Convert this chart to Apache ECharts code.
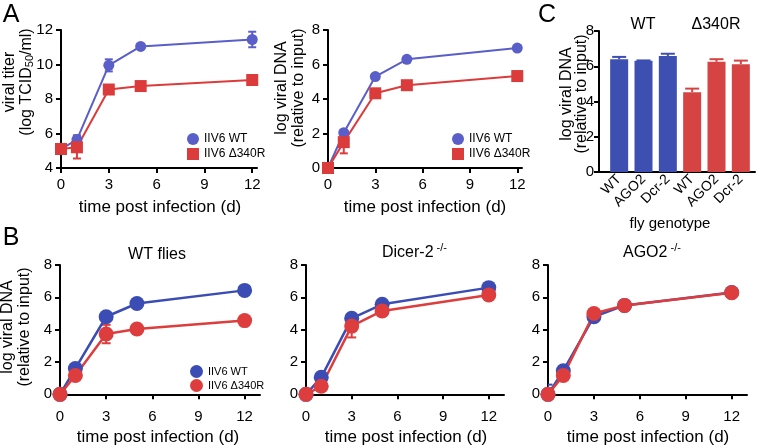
<!DOCTYPE html>
<html><head><meta charset="utf-8">
<script src="https://cdn.jsdelivr.net/npm/echarts@6/dist/echarts.min.js"></script>
<style>html,body{margin:0;padding:0;background:#fff}#c{width:762px;height:445px}</style>
</head><body><div id="c"></div>
<script>
// ---------- data ----------
const days = [0, 1, 3, 5, 12];
const dayTicks = [0, 3, 6, 9, 12];
const titerTicks = [4, 6, 8, 10, 12];
const dnaTicks = [0, 2, 4, 6, 8];
const seriesNames = ['IIV6 WT', 'IIV6 Δ340R'];

// A: viral titer
const titerWT = [5.1, 5.65, 9.95, 11.05, 11.45];
const titerWTErr = [0.1, 0.25, 0.35, 0.1, 0.45];
const titerMut = [5.1, 5.2, 8.55, 8.75, 9.1];
const titerMutErr = [0.1, 0.65, 0.15, 0.1, 0.1];
// A: viral DNA
const dnaWT = [0, 2.05, 5.3, 6.3, 6.95];
const dnaWTErr = [0.05, 0.15, 0.15, 0.1, 0.1];
const dnaMut = [0, 1.5, 4.33, 4.8, 5.33];
const dnaMutErr = [0.05, 0.65, 0.15, 0.1, 0.1];
// B: WT flies
const wtFliesWT = [0, 1.6, 4.8, 5.62, 6.43];
const wtFliesWTErr = [0, 0.1, 0.15, 0.1, 0.1];
const wtFliesMut = [0, 1.17, 3.73, 4.04, 4.56];
const wtFliesMutErr = [0, 0.15, 0.57, 0.1, 0.1];
// B: Dicer-2 -/-
const dicerWT = [0, 1.05, 4.7, 5.57, 6.6];
const dicerWTErr = [0, 0.25, 0.15, 0.1, 0.1];
const dicerMut = [0, 0.5, 4.22, 5.16, 6.15];
const dicerMutErr = [0, 0.1, 0.7, 0.1, 0.1];
// B: AGO2 -/-
const agoWT = [0, 1.46, 4.8, 5.5, 6.3];
const agoWTErr = [0.6, 0.2, 0.3, 0.1, 0.1];
const agoMut = [0, 1.17, 5.0, 5.5, 6.28];
const agoMutErr = [0, 0.1, 0.2, 0.1, 0.1];
// C: bars
const flyGenotypes = ['WT', 'AGO2', 'Dcr-2', 'WT', 'AGO2', 'Dcr-2'];
const barVirus = ['WT', 'WT', 'WT', 'Δ340R', 'Δ340R', 'Δ340R'];
const barValues = [6.4, 6.31, 6.58, 4.53, 6.25, 6.12];
const barErr = [0.13, 0.02, 0.13, 0.2, 0.15, 0.2];

// ---------- styles ----------
const FONT = '"Liberation Sans", Arial, Helvetica, sans-serif';
const blueA = '#5a5ec8', redA = '#dc3b3b';
const blueB = '#3b4db4', redB = '#dd3d3d';
const barColor = { 'WT': '#3d4fb0', 'Δ340R': '#d64343' };

const axLine = { show: true, lineStyle: { color: '#000', width: 2 } };
const axTick = (vals) => ({ show: true, length: 5, lineStyle: { color: '#000', width: 2 }, customValues: vals });
const axLabel = (vals, margin) => ({ customValues: vals, color: '#000', fontSize: 15, fontFamily: FONT, margin: margin });

function xAxisDays(gi, max) {
  return { type: 'value', gridIndex: gi, min: 0, max: max, axisLine: axLine, axisTick: axTick(dayTicks),
    axisLabel: axLabel(dayTicks, 9), splitLine: { show: false } };
}
function yAxisVal(gi, min, max, ticks, margin) {
  return { type: 'value', gridIndex: gi, min: min, max: max, axisLine: axLine, axisTick: axTick(ticks),
    axisLabel: axLabel(ticks, margin || 8), splitLine: { show: false } };
}
const pts = (ys) => days.map((d, i) => [d, ys[i]]);
const errPts = (ys, es) => days.map((d, i) => [d, ys[i], es[i]]);

function errSeries(ai, data, color, capW) {
  return {
    type: 'custom', xAxisIndex: ai, yAxisIndex: ai, data: data, clip: true, silent: true,
    encode: { x: 0, y: 1 },
    renderItem: function (params, api) {
      const x = api.value(0), y = api.value(1), e = api.value(2);
      if (!e) return { type: 'group', children: [] };
      const hi = api.coord([x, y + e]), lo = api.coord([x, y - e]);
      const h = capW / 2, st = { stroke: color, lineWidth: 2 };
      return { type: 'group', children: [
        { type: 'line', shape: { x1: hi[0], y1: hi[1], x2: lo[0], y2: lo[1] }, style: st },
        { type: 'line', shape: { x1: hi[0] - h, y1: hi[1], x2: hi[0] + h, y2: hi[1] }, style: st },
        { type: 'line', shape: { x1: lo[0] - h, y1: lo[1], x2: lo[0] + h, y2: lo[1] }, style: st }
      ] };
    }
  };
}
function lineSeries(ai, name, ys, color, symbol, size, lw) {
  return { type: 'line', name: name, xAxisIndex: ai, yAxisIndex: ai, data: pts(ys), symbol: symbol,
    symbolSize: size, showSymbol: true, itemStyle: { color: color }, lineStyle: { color: color, width: lw },
    emphasis: { disabled: true }, clip: false };
}

// ---------- panels ----------
const grids = [
  { left: 61, top: 30, width: 196, height: 138 },     // 0 A titer
  { left: 328, top: 30, width: 194, height: 138 },    // 1 A DNA
  { left: 60, top: 265, width: 200, height: 135 },    // 2 B WT flies
  { left: 306, top: 265, width: 198, height: 135 },   // 3 B Dicer-2
  { left: 548, top: 265, width: 199, height: 135 },   // 4 B AGO2
  { left: 607, top: 31, width: 146, height: 141 },    // 5 C bars
  { left: 599, top: 31, width: 156, height: 141 }     // 6 C frame
];
const xAxes = [
  xAxisDays(0, 12.3), xAxisDays(1, 12.3), xAxisDays(2, 13), xAxisDays(3, 13), xAxisDays(4, 13),
  { type: 'category', gridIndex: 5, data: flyGenotypes, axisLine: { show: false }, axisTick: { show: false },
    axisLabel: { rotate: 45, color: '#000', fontSize: 14, fontFamily: FONT, margin: 5, interval: 0 } },
  { type: 'value', gridIndex: 6, min: 0, max: 1, axisLine: axLine, axisTick: { show: false },
    axisLabel: { show: false }, splitLine: { show: false } }
];
const yAxes = [
  yAxisVal(0, 4, 12, titerTicks), yAxisVal(1, 0, 8, dnaTicks),
  yAxisVal(2, -0.35, 8, dnaTicks), yAxisVal(3, -0.35, 8, dnaTicks), yAxisVal(4, -0.35, 8, dnaTicks),
  { type: 'value', gridIndex: 5, min: 0, max: 8, show: false },
  yAxisVal(6, 0, 8, dnaTicks, 5)
];

const series = [
  errSeries(0, errPts(titerWT, titerWTErr), blueA, 8), lineSeries(0, seriesNames[0], titerWT, blueA, 'circle', 11, 2),
  errSeries(0, errPts(titerMut, titerMutErr), redA, 8), lineSeries(0, seriesNames[1], titerMut, redA, 'rect', 12, 2),
  errSeries(1, errPts(dnaWT, dnaWTErr), blueA, 8), lineSeries(1, seriesNames[0], dnaWT, blueA, 'circle', 11, 2),
  errSeries(1, errPts(dnaMut, dnaMutErr), redA, 8), lineSeries(1, seriesNames[1], dnaMut, redA, 'rect', 12, 2),
  errSeries(2, errPts(wtFliesWT, wtFliesWTErr), blueB, 9), lineSeries(2, seriesNames[0], wtFliesWT, blueB, 'circle', 15, 2.5),
  errSeries(2, errPts(wtFliesMut, wtFliesMutErr), redB, 9), lineSeries(2, seriesNames[1], wtFliesMut, redB, 'circle', 15, 2.5),
  errSeries(3, errPts(dicerWT, dicerWTErr), blueB, 9), lineSeries(3, seriesNames[0], dicerWT, blueB, 'circle', 15, 2.5),
  errSeries(3, errPts(dicerMut, dicerMutErr), redB, 9), lineSeries(3, seriesNames[1], dicerMut, redB, 'circle', 15, 2.5),
  errSeries(4, errPts(agoWT, agoWTErr), blueB, 9), lineSeries(4, seriesNames[0], agoWT, blueB, 'circle', 15, 2.5),
  errSeries(4, errPts(agoMut, agoMutErr), redB, 9), lineSeries(4, seriesNames[1], agoMut, redB, 'circle', 15, 2.5),
  { type: 'bar', xAxisIndex: 5, yAxisIndex: 5, barWidth: 18, silent: true,
    data: barValues.map((v, i) => ({ value: v, itemStyle: { color: barColor[barVirus[i]] } })) },
  { type: 'custom', xAxisIndex: 5, yAxisIndex: 5, silent: true, encode: { x: 0, y: 1 },
    data: barValues.map((v, i) => [i, v, barErr[i]]),
    renderItem: function (params, api) {
      const i = api.value(0), v = api.value(1), e = api.value(2);
      const top = api.coord([i, v]), hi = api.coord([i, v + e]);
      const h = 7, st = { stroke: barColor[barVirus[i]], lineWidth: 2 };
      return { type: 'group', children: [
        { type: 'line', shape: { x1: top[0], y1: top[1], x2: hi[0], y2: hi[1] }, style: st },
        { type: 'line', shape: { x1: hi[0] - h, y1: hi[1], x2: hi[0] + h, y2: hi[1] }, style: st }
      ] };
    } },
  // frame of panel C (no marks, only keeps its axes alive)
  { type: 'line', xAxisIndex: 6, yAxisIndex: 6, data: [], silent: true }
];

function legendAt(left, top, icons, colors, size, fs, gap) {
  return { left: left, top: top, orient: 'vertical', padding: 0, itemWidth: size, itemHeight: size, itemGap: gap,
    selectedMode: false, textStyle: { fontSize: fs, color: '#000', fontFamily: FONT },
    data: seriesNames.map((n, i) => ({ name: n, icon: icons[i], itemStyle: { color: colors[i] } })) };
}
const legends = [
  legendAt(187, 133, ['circle', 'rect'], [blueA, redA], 12, 12, 3),
  legendAt(452, 133, ['circle', 'rect'], [blueA, redA], 12, 12, 3),
  legendAt(190, 365, ['circle', 'circle'], [blueB, redB], 13, 11, 1)
];

// ---------- texts ----------
const txt = (text, x, y, fs, extra) => Object.assign({ type: 'text', x: x, y: y, silent: true,
  style: { text: text, fontSize: fs, fontFamily: FONT, fill: '#000', textAlign: 'center', textVerticalAlign: 'middle' } }, extra || {});
const richTxt = (text, x, y, rich, align, rot) => ({ type: 'text', x: x, y: y, rotation: rot || 0, silent: true,
  style: { text: text, fontSize: 16, fontFamily: FONT, fill: '#000', textAlign: align, textVerticalAlign: 'middle', rich: rich } });
const n16 = { fontSize: 16, fontFamily: FONT, fill: '#000', lineHeight: 17 };
const n16c = { fontSize: 16, fontFamily: FONT, fill: '#000', lineHeight: 15 };
const sub = { fontSize: 11, fontFamily: FONT, fill: '#000', lineHeight: 17, verticalAlign: 'bottom' };
const sup = { fontSize: 11, fontFamily: FONT, fill: '#000', lineHeight: 22, verticalAlign: 'top' };
const nT = { fontSize: 16, fontFamily: FONT, fill: '#000', lineHeight: 22 };
const dnaTitle = '{n|log viral DNA}\n{n|(relative to input)}';
const R = Math.PI / 2;

const graphics = [
  txt('A', 11, 15, 25), txt('B', 11, 238, 25), txt('C', 547, 15, 25),
  richTxt('{n|viral titer}\n{n|(log TCID}{s|50}{n|/ml)}', 18, 82, { n: n16, s: sub }, 'center', R),
  richTxt(dnaTitle, 290, 88, { n: n16 }, 'center', R),
  richTxt(dnaTitle, 16, 327, { n: n16 }, 'center', R),
  richTxt(dnaTitle, 574, 94, { n: n16c }, 'center', R),
  txt('time post infection (d)', 160, 207, 17), txt('time post infection (d)', 425, 207, 17),
  txt('time post infection (d)', 158, 437, 17), txt('time post infection (d)', 406, 437, 17),
  txt('time post infection (d)', 648, 437, 17),
  txt('WT flies', 157, 255, 16),
  richTxt('{t|Dicer-2}{u| -/-}', 382, 253, { t: nT, u: sup }, 'left'),
  richTxt('{t|AGO2}{u| -/-}', 623, 253, { t: nT, u: sup }, 'left'),
  txt('WT', 643, 25, 16), txt('Δ340R', 716, 25, 16),
  txt('fly genotype', 670, 224, 15)
];

const chart = echarts.init(document.getElementById('c'), null, { renderer: 'canvas' });
chart.setOption({
  animation: false, backgroundColor: '#fff',
  grid: grids, xAxis: xAxes, yAxis: yAxes, series: series, legend: legends, graphic: graphics
});
</script></body></html>
